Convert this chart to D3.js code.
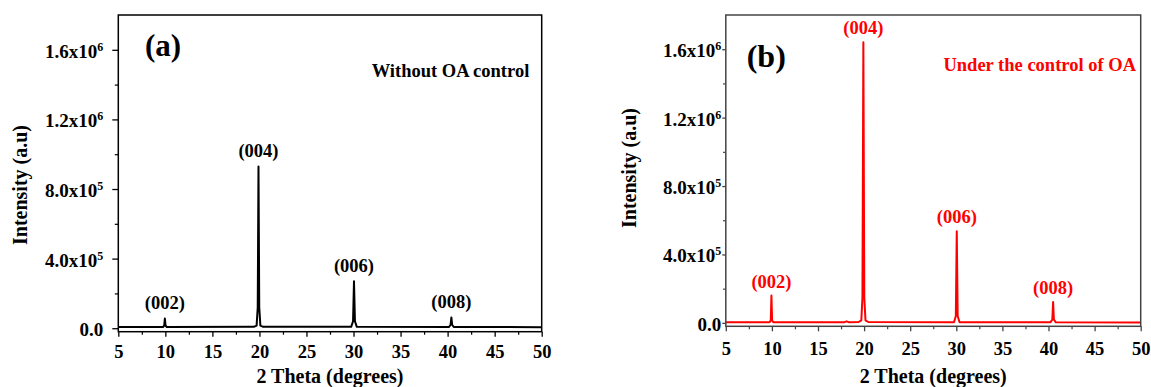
<!DOCTYPE html>
<html><head><meta charset="utf-8">
<script src="https://cdn.jsdelivr.net/npm/d3@7"></script>
<style>
html,body{margin:0;padding:0;background:#fff;overflow:hidden}
svg{display:block}
text{font-family:"Liberation Serif","Times New Roman",serif;font-weight:bold}
</style></head><body>
<svg id="chart" width="1151" height="387"></svg>
<script>
// ---------- data ----------
const thetaA = [5, 9.75, 9.88, 9.95, 10.02, 10.15, 19.4, 19.7, 19.82, 19.9, 19.98, 20.1, 20.4,
  29.75, 29.95, 30.05, 30.15, 30.35, 40.15, 40.32, 40.4, 40.48, 40.65, 50];
const intensityA = [7000, 7000, 15000, 56000, 15000, 7000, 8000, 15000, 120000, 930000, 120000, 15000, 8000,
  8000, 40000, 270000, 40000, 8000, 7000, 20000, 62000, 20000, 7000, 6000];

const thetaB = [5, 9.75, 9.88, 9.95, 10.02, 10.15, 17.8, 18.1, 18.4, 19.4, 19.7, 19.82, 19.92, 20.02, 20.15, 20.45,
  29.75, 29.95, 30.05, 30.15, 30.35, 40.2, 40.42, 40.5, 40.58, 40.8, 50];
const intensityB = [3000, 3000, 15000, 160000, 15000, 3000, 3000, 9000, 3000, 5000, 15000, 150000, 1640000, 150000, 15000, 5000,
  4000, 40000, 535000, 40000, 4000, 3000, 20000, 122000, 20000, 3000, 2000];

const peakLabels = ["(002)", "(004)", "(006)", "(008)"];
const peakThetaA = [9.95, 19.9, 30.05, 40.4];
const peakIntA = [56000, 930000, 270000, 62000];
const peakThetaB = [9.95, 19.92, 30.05, 40.5];
const peakIntB = [160000, 1640000, 535000, 122000];

const xDomain = [5, 50];
const yDomain = [-20000, 1800000];
const xMajor = [5, 10, 15, 20, 25, 30, 35, 40, 45, 50];
const xMinor = [7.5, 12.5, 17.5, 22.5, 27.5, 32.5, 37.5, 42.5, 47.5];
const yMajor = [0, 400000, 800000, 1200000, 1600000];
const yMinor = [200000, 600000, 1000000, 1400000];
const yTickMantissa = ["0.0", "4.0x10", "8.0x10", "1.2x10", "1.6x10"];
const yTickExponent = ["", "5", "5", "6", "6"];

const xTitle = "2 Theta (degrees)";
const yTitle = "Intensity (a.u)";

// ---------- drawing ----------
const svg = d3.select("#chart");

function drawPanel(p) {
  const g = svg.append("g");
  const x = d3.scaleLinear().domain(xDomain).range([p.left, p.right]);
  const y = d3.scaleLinear().domain(yDomain).range([p.bottom, p.top]);

  // x axis
  const xa = g.append("g").attr("transform", `translate(0,${p.bottom})`)
    .call(d3.axisBottom(x).tickValues(xMajor).tickSize(5).tickFormat(d3.format("d")));
  xa.select(".domain").remove();
  xa.selectAll(".tick line").attr("stroke", p.frame).attr("stroke-width", 1.3);
  xa.selectAll(".tick text").attr("y", p.xLabelOff).attr("dy", null)
    .attr("fill", "#000").style("font-size", "18.5px");
  const xm = g.append("g").attr("transform", `translate(0,${p.bottom})`)
    .call(d3.axisBottom(x).tickValues(xMinor).tickSize(3).tickFormat(""));
  xm.select(".domain").remove();
  xm.selectAll(".tick line").attr("stroke", p.frame).attr("stroke-width", 1.2);

  // y axis
  const ya = g.append("g").attr("transform", `translate(${p.left},0)`)
    .call(d3.axisLeft(y).tickValues(yMajor).tickSize(p.yTick));
  ya.select(".domain").remove();
  ya.selectAll(".tick line").attr("stroke", p.frame).attr("stroke-width", 1.3);
  ya.selectAll(".tick text").each(function(d, i) {
    const t = d3.select(this);
    t.text(null).attr("x", -p.yLabelGap).attr("y", 7.5).attr("dy", null)
      .attr("text-anchor", "end").attr("fill", "#000").style("font-size", "19px");
    t.append("tspan").text(yTickMantissa[i]);
    if (yTickExponent[i]) t.append("tspan").attr("dy", -7).style("font-size", "12px").text(yTickExponent[i]);
  });
  const ym = g.append("g").attr("transform", `translate(${p.left},0)`)
    .call(d3.axisLeft(y).tickValues(yMinor).tickSize(p.yTickMinor).tickFormat(""));
  ym.select(".domain").remove();
  ym.selectAll(".tick line").attr("stroke", p.frame).attr("stroke-width", 1.2);

  // data line
  const line = d3.line().x((d, i) => x(p.theta[i])).y(d => y(d));
  g.append("path").datum(p.intensity).attr("d", line)
    .attr("fill", "none").attr("stroke", p.color).attr("stroke-width", 2)
    .attr("stroke-linejoin", "round");

  // frame
  g.append("rect").attr("x", p.left).attr("y", p.top)
    .attr("width", p.right - p.left).attr("height", p.bottom - p.top)
    .attr("fill", "none").attr("stroke", p.frame).attr("stroke-width", 1.5);

  // peak labels
  g.selectAll(".pk").data(peakLabels).enter().append("text")
    .attr("x", (d, i) => x(p.peakTheta[i]))
    .attr("y", (d, i) => y(p.peakInt[i]) - p.labelGap)
    .attr("text-anchor", "middle").attr("fill", p.color)
    .style("font-size", "18.5px").text(d => d);

  // panel letter
  g.append("text").attr("x", p.letterX).attr("y", p.letterY)
    .style("font-size", p.letterSize + "px").attr("fill", "#000").text(p.letter);

  // annotation
  g.append("text").attr("x", p.noteX).attr("y", p.noteY).attr("text-anchor", "end")
    .style("font-size", "18.5px").attr("fill", p.color).text(p.note);

  // axis titles
  g.append("text").attr("x", (p.left + p.right) / 2).attr("y", 382.5)
    .attr("text-anchor", "middle").style("font-size", "20px").attr("fill", "#000").text(xTitle);
  g.append("text").attr("transform", `translate(${p.yTitleX},${p.yTitleY}) rotate(-90)`)
    .attr("text-anchor", "middle").style("font-size", "20px").attr("fill", "#000").text(yTitle);
}

drawPanel({
  left: 118.3, right: 541.7, top: 15, bottom: 331.7,
  theta: thetaA, intensity: intensityA, color: "#000", frame: "#000",
  peakTheta: peakThetaA, peakInt: peakIntA, labelGap: 9,
  xLabelOff: 26.6, yLabelGap: 15, yTick: 6, yTickMinor: 3.5,
  letter: "(a)", letterX: 145, letterY: 56, letterSize: 31,
  note: "Without OA control", noteX: 529.3, noteY: 77,
  yTitleX: 26.5, yTitleY: 185
});

drawPanel({
  left: 725.8, right: 1140.7, top: 15, bottom: 326.3,
  theta: thetaB, intensity: intensityB, color: "#ff0000", frame: "#444",
  peakTheta: peakThetaB, peakInt: peakIntB, labelGap: 8,
  xLabelOff: 29, yLabelGap: 4.5, yTick: 3.5, yTickMinor: 2.8,
  letter: "(b)", letterX: 746.7, letterY: 67, letterSize: 32,
  note: "Under the control of OA", noteX: 1136, noteY: 71,
  yTitleX: 636, yTitleY: 168
});
</script></body></html>
